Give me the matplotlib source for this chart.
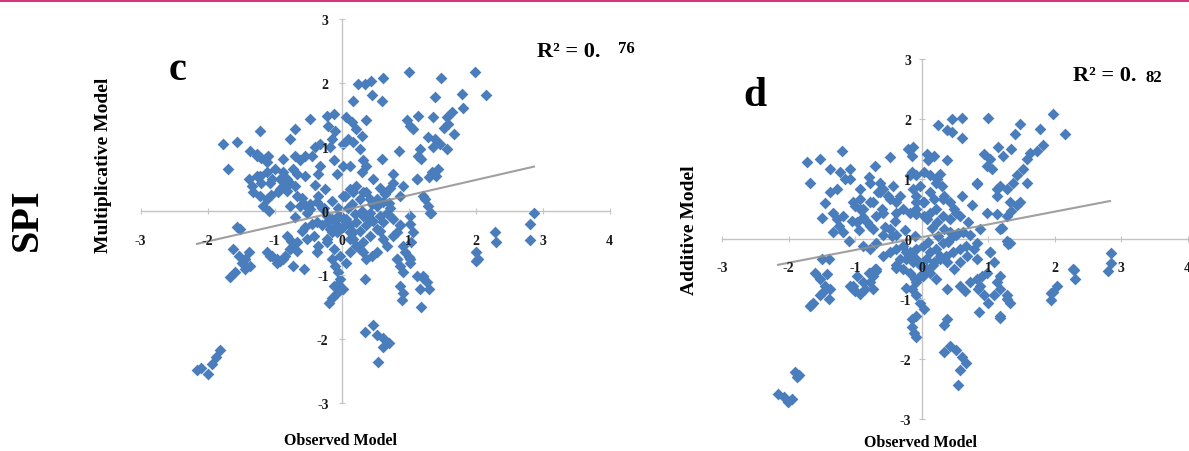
import numpy as np
import matplotlib
matplotlib.use("Agg")
import matplotlib.pyplot as plt
from matplotlib.lines import Line2D

plt.rcParams['font.family'] = ['Liberation Serif', 'DejaVu Serif']
plt.rcParams['font.weight'] = 'bold'
plt.rcParams['axes.unicode_minus'] = False

# ---- panel c : observed vs multiplicative model ----
obs_c = [
    1.00, 1.99, 1.48, 0.61, 0.25, 0.35, 0.43, 0.45, 0.60, 0.17,
    2.15, 1.39, 1.79, 1.81, 1.64, 1.57, 1.14, 0.97, 1.02, 1.07,
    1.37, 1.52, 1.59, 1.67, 1.29, 1.39, 1.47, 1.37, 1.57, 1.17,
    1.14, 1.19, 0.85, 0.60, 0.77, 0.72, 1.12, 1.35, 1.44, 1.30,
    1.40, 1.24, 1.29, 1.34, 0.87, 0.70,
    -1.77, -1.57, -1.22, -1.69, -1.37, -1.27, -1.20, -1.15, -1.10, -1.39,
    -1.34, -1.32, -1.22, -1.12, -1.17, -1.09, -1.27, -1.20, -1.12, -1.04,
    -0.92, -0.87, -0.82, -0.77, -0.70, -0.87, -0.67, -0.62, -0.70, -0.55,
    -0.77, -0.70, -0.47, -0.40, -0.32, -0.45, -0.22, -0.12, -0.20, -0.10,
    -0.15, -0.17, -0.32, -0.35, -0.07, -0.12, 0.02, 0.07, 0.15, 0.22,
    0.30, 0.37, 0.02, 0.10, 0.17, 0.27, 0.32, 0.37, 0.30, 0.12,
    0.05, 0.17, 0.27, 0.37, 0.47, 0.57, 0.65, 0.52, -0.47, -0.52,
    -0.62, -0.70, -0.35, -0.25, -0.15, -0.05, 0.10, 0.20,
    -1.52, -1.62, -1.54, -1.49, -1.44, -1.59, -1.67, -1.39, -1.37, -1.44,
    -1.04, -0.97, -0.92, -0.85, -0.77, -0.72, -0.67, -0.75, -0.82, -1.12,
    -0.60, -0.55, -0.45, -0.37, -0.30, -0.22, -0.15, -0.07, -0.52, -0.42,
    -0.35, -0.37, -0.22, -0.15, -0.07, -0.02, 0.07, 0.12, 0.17, 0.22,
    0.27, 0.32, 0.37, 0.45, 0.52, -0.15, -0.10, -0.05, -0.02, 0.02,
    -0.07, -0.12, 0.35, 0.57, 0.62, 0.67, 0.82, 0.87, 0.77, 0.72,
    1.02, 1.07, 1.04, 0.82, 0.87, 0.92, 1.02, 0.87, 0.92, 1.17,
    1.22, 1.27, 2.01, 2.04, 2.29, 2.31,
    -2.16, -2.10, -1.99, -1.93, -1.88, -1.82, 0.35, 0.47, 0.52, 0.61,
    0.70, 0.61, 0.54, -0.19, -0.15, -0.05, 1.21, 1.30, 1.18, 0.90,
    0.95, 1.00, 2.81, 2.81, 2.87, 2.01, -1.56,
    -1.00, -0.95, -1.05, -0.60, -0.40, -0.55, -0.30, 0.00, 0.15, 0.30,
    0.40, 0.45,
]
mult_c = [
    2.16, 2.17, 2.08, 2.08, 1.98, 1.98, 2.02, 1.81, 1.72, 1.72,
    1.81, 1.77, 1.82, 1.61, 1.54, 1.46, 1.48, 1.41, 1.33, 1.28,
    1.46, 1.30, 1.35, 1.20, 1.15, 1.12, 1.04, 0.99, 0.96, 0.96,
    0.86, 0.81, 0.94, 0.81, 0.57, 0.36, 0.49, 0.60, 0.65, 0.52,
    0.55, 0.18, 0.08, -0.03, 0.23, 0.12,
    1.04, 1.07, 1.25, 0.65, 0.94, 0.89, 0.83, 0.81, 0.86, 0.49,
    0.39, 0.29, 0.23, 0.18, 0.08, 0.00, 0.55, 0.44, 0.60, 0.49,
    0.49, 0.39, 0.31, 0.44, 0.39, 0.60, 0.57, 0.80, 0.86, 0.86,
    1.12, 1.28, 1.43, 0.99, 1.04, 0.86, 1.48, 1.51, 1.33, 1.25,
    1.12, 0.99, 0.70, 0.57, 0.57, 0.80, 0.70, 1.46, 1.38, 1.28,
    1.17, 1.41, 1.04, 1.12, 1.07, 0.96, 0.80, 0.70, 0.60, 0.70,
    0.23, 0.29, 0.18, 0.29, 0.49, 0.36, 0.26, 0.18, 0.10, -0.03,
    0.08, -0.10, 0.23, 0.34, 0.15, 0.05, 0.05, -0.05,
    -0.29, -0.60, -0.70, -0.81, -0.91, -0.96, -1.04, -0.65, -0.86, -0.76,
    -0.70, -0.76, -0.78, -0.70, -0.60, -0.55, -0.63, -0.47, -0.39, -0.65,
    -0.31, -0.26, -0.21, -0.18, -0.23, -0.18, -0.13, -0.10, -0.44, -0.39,
    -0.55, -0.65, -0.44, -0.34, -0.23, -0.29, -0.18, -0.34, -0.44, -0.55,
    -0.60, -0.65, -0.76, -0.70, -0.65, -0.76, -0.86, -0.96, -1.07, -1.22,
    -1.28, -1.17, -1.07, -0.31, -0.44, -0.55, -0.34, -0.23, -0.13, -0.08,
    -0.21, -0.34, -0.49, -0.76, -0.86, -0.96, -0.81, -1.17, -1.28, -1.22,
    -1.02, -1.12, -0.65, -0.76, -0.34, -0.49,
    -2.49, -2.46, -2.55, -2.39, -2.28, -2.18, -1.89, -1.78, -1.94, -1.99,
    -2.07, -2.13, -2.36, -1.44, -1.36, -1.15, -1.05, -1.23, -1.50, -1.39,
    -0.65, -0.72, -0.21, -0.45, -0.03, -0.79, -0.26,
    0.65, 0.30, 0.25, 0.20, 0.40, 0.55, 0.05, -0.10, 0.10, 0.00,
    -0.15, 0.10,
]
# dense cloud around the origin of panel c
obs_c_core = [
    -0.22, -0.12, -0.02, 0.07, 0.12, 0.22, 0.32, 0.42, 0.52, 0.62,
    0.72, -0.17, -0.07, 0.02, 0.17, 0.27, 0.37, 0.47, 0.57, 0.67,
    0.12, 0.22, 0.32, 0.42, 0.52, 0.62, -0.22, -0.12, -0.02, 0.07,
    0.12, -0.27, -0.37, -0.47, -0.57, 0.02, 0.12, 0.22, 0.32, 0.42,
    -1.27, -1.12, -1.22, -1.07, -0.92, -0.82, -0.72, -0.87, -0.67, -0.77,
    -1.07, -0.97, -0.87, -0.77, -0.67, -0.72, -0.57,
    0.77, 0.92, 1.12, 1.22, 1.32, 1.02, 0.87, 0.77, 0.92, 1.02,
    0.82, 1.12,
]
mult_c_core = [
    -0.08, -0.16, -0.08, -0.13, -0.23, -0.18, -0.08, -0.03, 0.08, 0.13,
    0.05, -0.29, -0.34, -0.26, -0.34, -0.31, -0.23, -0.16, -0.08, -0.03,
    -0.44, -0.55, -0.49, -0.39, -0.29, -0.18, -0.49, -0.60, -0.70, -0.81,
    -0.65, 0.05, 0.13, 0.03, 0.10, 0.23, 0.34, 0.39, 0.29, 0.18,
    0.86, 0.76, 0.55, 0.44, 0.34, 0.50, 0.65, 0.81, 0.23, 0.08,
    -0.70, -0.81, -0.76, -0.60, -0.49, -0.86, -0.91,
    0.44, 0.39, 0.49, 0.23, -0.03, -0.08, -0.23, -0.39, -0.55, -0.76,
    -0.76, -1.02,
]

# ---- panel d : observed vs additive model ----
obs_d = [
    1.98, 1.00, 0.45, 0.60, 0.25, 0.38, 0.45, 0.60, 1.48, 1.40,
    1.78, 2.16, 1.83, 1.73, 1.63, 1.15, 1.35, 1.23, 0.93, 1.03,
    0.98, 1.05, 1.58, 1.53, 1.43, 1.38, 1.28, 1.18, 1.13, 1.58,
    0.83, 0.60, 0.75, 1.13, 1.28, 1.35, 1.43, 1.48, 1.20, 1.28,
    1.30, 0.88, 0.70,
    -1.73, -1.53, -1.20, -1.68, -1.38, -1.23, -1.08, -1.15, -1.28, -1.38,
    -1.33, -1.28, -1.25, -1.18, -1.10, -1.33, -0.93, -0.88, -0.83, -0.73,
    -0.68, -0.60, -0.78, -0.93, -0.80, -0.70, -0.48, -0.65, -0.58, -0.50,
    -0.43, -0.38, -0.33, -0.28, -0.20, -0.13, -0.15, 0.08, 0.18, 0.10,
    0.38, -0.15, -0.08, 0.03, 0.13, 0.23, 0.30, 0.28, -0.13, -0.08,
    0.03, 0.18, 0.33, 0.43, 0.48, 0.58, -0.18, -0.08, 0.03, 0.08,
    0.15, 0.23, 0.33, 0.43,
    -1.00, -1.05, -0.95, -0.55, -0.40, -0.45, -0.25, -0.10, 0.10, 0.25,
    0.40, 0.55, -1.45, -1.50,
    -1.50, -1.60, -1.53, -1.45, -1.38, -1.48, -1.63, -1.68, -1.40, -1.53,
    -1.08, -1.00, -0.93, -0.85, -0.78, -0.73, -0.70, -0.80, -0.38, -0.33,
    -0.28, -0.58, -0.48, -0.38, -0.23, -0.15, -0.08, -0.18, -0.10, -0.03,
    0.08, 0.18, 0.28, 0.38, 0.48, 0.58, 0.68, 0.78, 0.83, -0.15,
    -0.08, -0.03, 0.03, -0.08, -0.15, 0.38, 0.38, 0.58, 0.65, 0.73,
    0.83, 0.90, 1.03, 1.08, 1.18, 0.85, 0.93, 1.00, 1.08, 1.18,
    1.28, 1.33, 1.18, 1.98, 2.03, 2.28, 2.31,
    -2.16, -2.07, -2.01, -1.95, -1.90, -1.84, -1.87, 0.34, 0.43, 0.51,
    0.60, 0.66, 0.57, 0.54, 0.34, -0.15, -0.12, -0.09, 1.18, 0.86,
    1.95, 1.95, 2.29, 2.84, 2.84, 2.80, -1.67, -1.43, -1.04, -0.69,
    -1.40, -0.38, -0.23,
]
add_d = [
    2.08, 2.01, 2.00, 2.01, 1.90, 1.81, 1.78, 1.68, 1.92, 1.75,
    1.83, 1.75, 1.56, 1.47, 1.44, 1.53, 1.50, 1.39, 1.42, 1.33,
    1.22, 1.17, 1.33, 1.17, 1.06, 0.94, 0.83, 0.89, 0.83, 0.94,
    0.92, 0.72, 0.56, 0.42, 0.39, 0.47, 0.56, 0.61, 0.19, -0.03,
    -0.08, 0.17, 0.28,
    1.28, 1.33, 1.47, 0.94, 1.17, 1.11, 1.17, 1.00, 0.83, 0.78,
    0.44, 0.33, 0.22, 0.11, -0.03, 0.11, 0.50, 0.36, 0.28, 0.17,
    0.39, 0.50, 0.61, 0.67, 1.03, 1.22, 1.36, 0.78, 0.83, 0.72,
    0.89, 0.61, 0.72, 0.50, 1.50, 1.53, 1.39, 1.42, 1.39, 1.31,
    1.31, 1.11, 1.06, 1.11, 1.06, 1.00, 0.89, 1.08, 0.83, 0.72,
    0.61, 0.67, 0.72, 0.61, 0.50, 0.39, 0.44, 0.42, 0.39, 0.33,
    0.19, 0.28, 0.17, 0.11,
    0.55, 0.30, 0.15, 0.20, 0.30, 0.05, 0.15, 0.05, -0.05, 0.05,
    -0.05, 0.10, 0.60, 0.35,
    -0.33, -0.56, -0.67, -0.78, -0.83, -0.89, -1.06, -1.11, -1.00, -0.94,
    -0.78, -0.86, -0.92, -0.83, -0.72, -0.61, -0.50, -0.56, -0.44, -0.33,
    -0.50, -0.28, -0.22, -0.17, -0.22, -0.28, -0.33, -0.56, -0.67, -0.61,
    -0.50, -0.39, -0.28, -0.39, -0.50, -0.39, -0.28, -0.17, -0.06, -0.83,
    -0.94, -1.06, -1.17, -1.28, -1.33, -1.33, -0.83, -0.78, -0.86, -0.72,
    -0.67, -0.61, -0.22, -0.39, -0.61, -0.83, -0.94, -1.06, -0.94, -0.83,
    -1.00, -1.06, -1.28, -0.89, -0.78, -0.50, -0.67,
    -2.58, -2.63, -2.72, -2.66, -2.22, -2.27, -2.30, -1.88, -1.79, -1.85,
    -1.96, -2.07, -2.19, -2.44, -1.43, -1.46, -1.57, -1.63, -1.32, -1.21,
    -0.90, -1.01, -0.51, -0.23, -0.40, -0.53, -1.10, -0.59, -0.84, -0.53,
    -0.34, -0.48, -0.82,
]
# dense cloud around the origin of panel d
obs_d_core = [
    -0.28, -0.18, -0.08, 0.02, 0.12, 0.22, 0.32, 0.42, 0.52, 0.62,
    0.72, -0.13, -0.03, 0.07, 0.17, 0.27, 0.37, 0.47, 0.57, 0.67,
    0.12, 0.22, 0.02, -0.08, -0.23, -0.38, -0.48, -0.58, -0.68, -0.78,
    -0.88, -0.08, 0.02, 0.12, 0.22, 0.32, 0.42, 0.52,
    -1.08, -0.93, -0.78, -0.63, -1.03, -0.88, -0.73, -0.58, -1.18, -0.98,
    -0.78, -0.63, -0.48, -0.38,
    -0.18, -0.03, 0.12, 0.22, -0.08, 0.32,
    -0.98, -0.88, -0.78, -0.68, -1.03, -0.73,
    0.83, 1.13, 1.33, 0.98, 1.18, 1.33, 1.03, 0.83, 0.98, 1.13,
    0.88, 1.28,
]
add_d_core = [
    -0.11, -0.22, -0.17, -0.11, -0.22, -0.17, -0.06, 0.00, 0.06, 0.11,
    0.06, -0.39, -0.44, -0.33, -0.44, -0.33, -0.28, -0.22, -0.17, -0.11,
    -0.56, -0.67, -0.61, -0.72, -0.33, 0.06, 0.17, 0.06, -0.06, -0.17,
    -0.11, 0.50, 0.61, 0.44, 0.50, 0.39, 0.33, 0.44,
    1.00, 0.83, 0.94, 0.78, 0.61, 0.50, 0.61, 0.44, 0.39, 0.28,
    0.22, 0.94, 0.67, 0.44,
    1.06, 0.89, 0.78, 0.94, 0.61, 0.67,
    -0.61, -0.72, -0.56, -0.50, -0.78, -0.83,
    0.94, 0.72, 0.61, 0.44, 0.17, -0.06, -0.22, -0.33, -0.56, -0.72,
    -0.78, -0.94,
]

# trend lines as drawn in the figure: slope, intercept, x-start, x-end
trend_c = [0.24, 0.00, -2.16, 2.87]
trend_d = [0.213, 0.03, -2.16, 2.83]

x_ticks = [-3, -2, -1, 0, 1, 2, 3, 4]
y_ticks = [-3, -2, -1, 0, 1, 2, 3]

blue = '#4a7dbb'
axis_gray = '#c4c4c4'

W, H = 1189, 452


def fx(px):
    return px / W


def fy(py):
    return 1 - py / H


def draw_panel(ax, xs, ys, trend, xpad, ypad):
    ax.scatter(xs, ys, marker='D', s=36, color=blue, linewidths=0, zorder=3)
    tx = np.array(trend[2:])
    ax.plot(tx, trend[0] * tx + trend[1], color='#8f8f8f', lw=1.5, alpha=0.85, zorder=4)
    ax.set_xlim(-3, 4)
    ax.set_ylim(-3, 3)
    for s in ['top', 'right']:
        ax.spines[s].set_visible(False)
    for s in ['left', 'bottom']:
        ax.spines[s].set_position('zero')
        ax.spines[s].set_color(axis_gray)
        ax.spines[s].set_linewidth(1.0)
    ax.set_xticks(x_ticks)
    ax.set_yticks(y_ticks)
    ax.tick_params(direction='inout', length=5, width=0.8, color=axis_gray,
                   labelsize=10, labelcolor='#1a1a1a')
    ax.tick_params(axis='x', pad=xpad)
    ax.tick_params(axis='y', pad=ypad)
    ax.xaxis.set_zorder(5)
    ax.yaxis.set_zorder(5)
    ax.patch.set_visible(False)


fig = plt.figure(figsize=(W / 100, H / 100), dpi=100)

# panel c
ax_c = fig.add_axes([fx(140.7), fy(403.7), 469 / W, 384 / H])
draw_panel(ax_c, obs_c + obs_c_core, mult_c + mult_c_core, trend_c, 14, 7)

# panel d
ax_d = fig.add_axes([fx(722.2), fy(420), 465.5 / W, 360 / H])
draw_panel(ax_d, obs_d + obs_d_core, add_d + add_d_core, trend_d, 13, 5)

# pink rule at the top
fig.add_artist(Line2D([0, 1], [fy(1), fy(1)], color='#d6367a', lw=2.2,
                      transform=fig.transFigure))

fig.text(fx(27), fy(220), 'SPI', rotation=90, fontsize=29, ha='center', va='center')
fig.text(fx(178), fy(70), 'c', fontsize=29, ha='center', va='center')
fig.text(fx(755), fy(96), 'd', fontsize=30, ha='center', va='center')

fig.text(fx(104), fy(165), 'Multiplicative Model', rotation=90, fontsize=14,
         ha='center', va='center')
fig.text(fx(689), fy(230), 'Additive Model', rotation=90, fontsize=14,
         ha='center', va='center')
fig.text(fx(341), fy(441), 'Observed Model', fontsize=11.5, ha='center', va='center')
fig.text(fx(921), fy(443), 'Observed Model', fontsize=11.5, ha='center', va='center')

fig.text(fx(537), fy(52), 'R² = 0.', fontsize=16, ha='left', va='center')
fig.text(fx(618), fy(49), '76', fontsize=12, ha='left', va='center')
fig.text(fx(1073), fy(76), 'R² = 0.', fontsize=16, ha='left', va='center')
fig.text(fx(1146), fy(78), '82', fontsize=12, ha='left', va='center')

fig.savefig('out.png', dpi=100)
